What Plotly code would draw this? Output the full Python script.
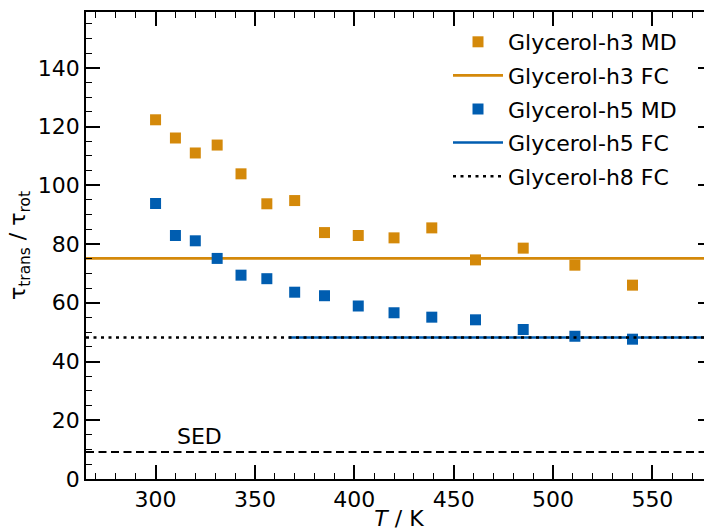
import plotly.graph_objects as go

# Data
T = [300, 310, 320, 331, 343, 356, 370, 385, 402, 420, 439, 461, 485, 511, 540]
h3_md = [122.3, 116.1, 111.0, 113.7, 103.9, 93.7, 94.8, 83.9, 82.9, 82.1, 85.5, 74.6, 78.6, 72.8, 66.0]
h5_md = [93.8, 82.9, 81.1, 75.1, 69.4, 68.2, 63.6, 62.4, 58.9, 56.6, 55.1, 54.2, 50.9, 48.6, 47.6]
h3_fc = 75.1
h5_fc = 48.2
h5_fc_start = 367
h8_fc = 48.2
sed = 9.2
x_range = [265, 580]
y_range = [0, 159]

orange = "#D4890A"
blue = "#005DB0"
font = "DejaVu Sans"

fig = go.Figure()
fig.add_trace(go.Scatter(x=T, y=h3_md, mode="markers", name="Glycerol-h3 MD", legendgroup="a",
                         marker=dict(symbol="square", size=11, color=orange,
                                     line=dict(width=0))))
fig.add_trace(go.Scatter(x=x_range, y=[h3_fc, h3_fc], mode="lines", name="Glycerol-h3 FC",
                         legendgroup="b", line=dict(color=orange, width=2.8)))
fig.add_trace(go.Scatter(x=T, y=h5_md, mode="markers", name="Glycerol-h5 MD", legendgroup="c",
                         marker=dict(symbol="square", size=11, color=blue,
                                     line=dict(width=0))))
fig.add_trace(go.Scatter(x=[h5_fc_start, x_range[1]], y=[h5_fc, h5_fc], mode="lines",
                         name="Glycerol-h5 FC", legendgroup="d", line=dict(color=blue, width=2.5)))
fig.add_trace(go.Scatter(x=x_range, y=[h8_fc, h8_fc], mode="lines", name="Glycerol-h8 FC",
                         legendgroup="e",
                         line=dict(color="black", width=2.5, dash="3px,4.5px")))
fig.add_trace(go.Scatter(x=x_range, y=[sed, sed], mode="lines", showlegend=False,
                         line=dict(color="black", width=2, dash="8px,4.5px")))

fig.add_annotation(x=322, y=14.6, xref="x", yref="y", text="SED", showarrow=False,
                   font=dict(family=font, size=22, color="black"))

axis_common = dict(showline=True, linecolor="black", linewidth=1.8, mirror="ticks",
                   ticks="inside", ticklen=14, tickwidth=1.6, tickcolor="black",
                   showgrid=False, zeroline=False, automargin=False,
                   tickfont=dict(family=font, size=22, color="black"))

fig.update_xaxes(range=x_range, dtick=50, tick0=0,
                 minor=dict(dtick=10, ticklen=6, tickwidth=1.4, ticks="inside", tickcolor="black"),
                 title=dict(text="<i>T</i> / K", font=dict(family=font, size=22, color="black"),
                            standoff=4),
                 **axis_common)
fig.update_yaxes(range=y_range, dtick=20, tick0=0,
                 minor=dict(dtick=5, ticklen=6, tickwidth=1.4, ticks="inside", tickcolor="black"),
                 title=dict(text="τ<sub>trans</sub> / τ<sub>rot</sub>",
                            font=dict(family=font, size=22, color="black"), standoff=6),
                 **axis_common)

fig.update_layout(
    width=720, height=531,
    margin=dict(l=86, r=8, t=12, b=52),
    plot_bgcolor="white", paper_bgcolor="white",
    font=dict(family=font, size=22, color="black"),
    legend=dict(x=(448 - 86) / 626, xanchor="left", y=(479 - 21) / 467, yanchor="top",
                bgcolor="rgba(255,255,255,0)", borderwidth=0, itemwidth=50,
                font=dict(family=font, size=22, color="black"), tracegroupgap=2),
)

fig.write_html("out.html", post_script="document.body.style.overflow='hidden';document.body.style.margin='0';")
